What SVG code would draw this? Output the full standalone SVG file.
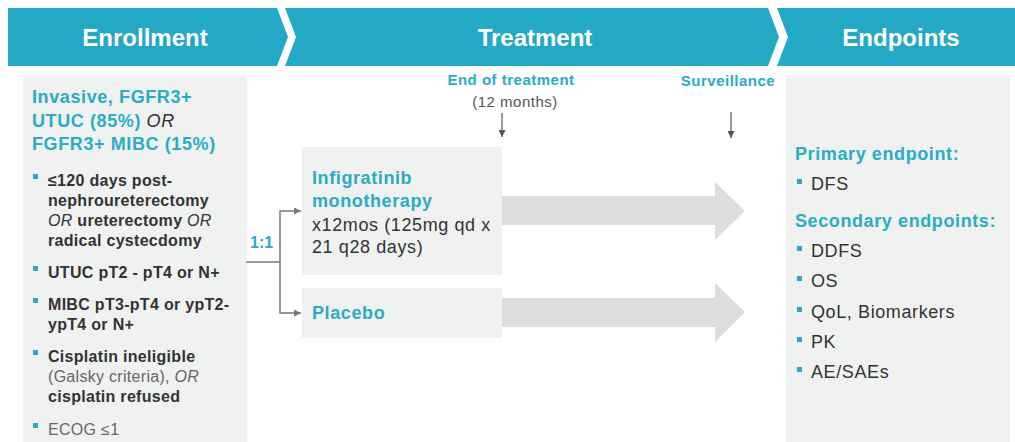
<svg xmlns="http://www.w3.org/2000/svg" width="1015" height="442" viewBox="0 0 1015 442">
<defs>
<style>
.hd{font-family:"Liberation Sans",Arial,sans-serif;font-weight:bold;font-size:24px;fill:#ffffff;text-anchor:middle}
.cy{font-family:"Liberation Sans",Arial,sans-serif;font-weight:bold;font-size:18px;fill:#2aacc6;letter-spacing:0.6px}
.rg{font-family:"Liberation Sans",Arial,sans-serif;font-size:18px;fill:#333333;letter-spacing:0.6px}
.bl{font-family:"Liberation Sans",Arial,sans-serif;font-weight:bold;font-size:16px;fill:#333333;letter-spacing:0.3px}
.lt{font-family:"Liberation Sans",Arial,sans-serif;font-size:16px;fill:#666666;letter-spacing:0.3px}
.sm{font-family:"Liberation Sans",Arial,sans-serif;font-weight:bold;font-size:15px;fill:#2aacc6;letter-spacing:0.5px;text-anchor:middle}
.smr{font-family:"Liberation Sans",Arial,sans-serif;font-size:15px;fill:#555555;letter-spacing:0.5px;text-anchor:middle}
.it{font-style:italic;font-weight:normal}
.box{fill:#f0f1f1}
.bul{fill:#2aacc6}
.big{fill:#dcdddf}
.cn{fill:none;stroke:#777777;stroke-width:1.5}
.dn{fill:none;stroke:#555555;stroke-width:1.2}
</style>
<marker id="ah" viewBox="0 0 10 10" refX="10" refY="5" markerWidth="7" markerHeight="7" markerUnits="userSpaceOnUse" orient="auto">
<path d="M0,0 L10,5 L0,10 z" fill="#777777"/>
</marker>
<marker id="ad" viewBox="0 0 10 10" refX="10" refY="5" markerWidth="7" markerHeight="7" markerUnits="userSpaceOnUse" orient="auto">
<path d="M0,0 L10,5 L0,10 z" fill="#555555"/>
</marker>
</defs>
<rect x="0" y="0" width="1015" height="442" fill="#ffffff"/>

<g id="banner">
<polygon points="8,8 277,8 288,37 277,66 8,66" fill="#23a9c5"/>
<polygon points="285,8 768,8 779,37 768,66 285,66 296,37" fill="#23a9c5"/>
<polygon points="777,8 1015,8 1015,66 777,66 788,37" fill="#23a9c5"/>
<text class="hd" x="145" y="46">Enrollment</text>
<text class="hd" x="535" y="46">Treatment</text>
<text class="hd" x="901" y="46">Endpoints</text>
</g>

<g id="enrollment">
<rect class="box" x="23" y="77" width="224" height="365"/>
<text class="cy" x="32" y="103">Invasive, FGFR3+</text>
<text class="cy" x="32" y="127">UTUC (85%) <tspan class="it" fill="#333333">OR</tspan></text>
<text class="cy" x="32" y="150">FGFR3+ MIBC (15%)</text>
<rect class="bul" x="33" y="174" width="5" height="5"/>
<text class="bl" x="48" y="186">≤120 days post-</text>
<text class="bl" x="48" y="206">nephroureterectomy</text>
<text class="bl" x="48" y="226"><tspan class="it">OR</tspan> ureterectomy <tspan class="it">OR</tspan></text>
<text class="bl" x="48" y="246">radical cystecdomy</text>
<rect class="bul" x="33" y="266" width="5" height="5"/>
<text class="bl" x="48" y="278">UTUC pT2 - pT4 or N+</text>
<rect class="bul" x="33" y="298" width="5" height="5"/>
<text class="bl" x="48" y="310">MIBC pT3-pT4 or ypT2-</text>
<text class="bl" x="48" y="330">ypT4 or N+</text>
<rect class="bul" x="33" y="350" width="5" height="5"/>
<text class="bl" x="48" y="362">Cisplatin ineligible</text>
<text class="lt" x="48" y="382">(Galsky criteria), <tspan font-style="italic">OR</tspan></text>
<text class="bl" x="48" y="402">cisplatin refused</text>
<rect class="bul" x="33" y="423" width="5" height="5"/>
<text class="lt" x="48" y="435" fill="#555555">ECOG ≤1</text>
</g>

<g id="labels">
<text class="sm" x="511" y="85">End of treatment</text>
<text class="smr" x="515" y="107">(12 months)</text>
<text class="sm" x="728" y="86">Surveillance</text>
</g>

<g id="infigratinib">
<rect class="box" x="302" y="147" width="200" height="128"/>
<polygon class="big" points="502,196 715,196 715,182 745,211 715,240 715,225 502,225"/>
<text class="cy" x="312" y="184">Infigratinib</text>
<text class="cy" x="312" y="207">monotherapy</text>
<text class="rg" x="312" y="231">x12mos (125mg qd x</text>
<text class="rg" x="312" y="253">21 q28 days)</text>
</g>

<g id="placebo">
<rect class="box" x="302" y="288" width="200" height="50"/>
<polygon class="big" points="502,298 715,298 715,283 745,312 715,342 715,327 502,327"/>
<text class="cy" x="312" y="319">Placebo</text>
</g>

<g id="endpoints">
<rect class="box" x="786" y="77" width="224" height="365"/>
<text class="cy" x="795" y="160">Primary endpoint:</text>
<rect class="bul" x="797" y="179" width="5" height="5"/>
<text class="rg" x="811" y="190">DFS</text>
<text class="cy" x="795" y="227">Secondary endpoints:</text>
<rect class="bul" x="797" y="246" width="5" height="5"/>
<text class="rg" x="811" y="257">DDFS</text>
<rect class="bul" x="797" y="276" width="5" height="5"/>
<text class="rg" x="811" y="287">OS</text>
<rect class="bul" x="797" y="307" width="5" height="5"/>
<text class="rg" x="811" y="318">QoL, Biomarkers</text>
<rect class="bul" x="797" y="337" width="5" height="5"/>
<text class="rg" x="811" y="348">PK</text>
<rect class="bul" x="797" y="367" width="5" height="5"/>
<text class="rg" x="811" y="378">AE/SAEs</text>
</g>

<g id="connectors">
<path class="cn" d="M246,262 H280"/>
<path class="cn" d="M280,262 V211 H301" marker-end="url(#ah)"/>
<path class="cn" d="M280,262 V313 H301" marker-end="url(#ah)"/>
<text x="250" y="248" font-family="Liberation Sans, Arial, sans-serif" font-weight="bold" font-size="16" fill="#2aacc6">1:1</text>
<path class="dn" d="M502,113 V137" marker-end="url(#ad)"/>
<path class="dn" d="M731,112 V138" marker-end="url(#ad)"/>
</g>
</svg>
